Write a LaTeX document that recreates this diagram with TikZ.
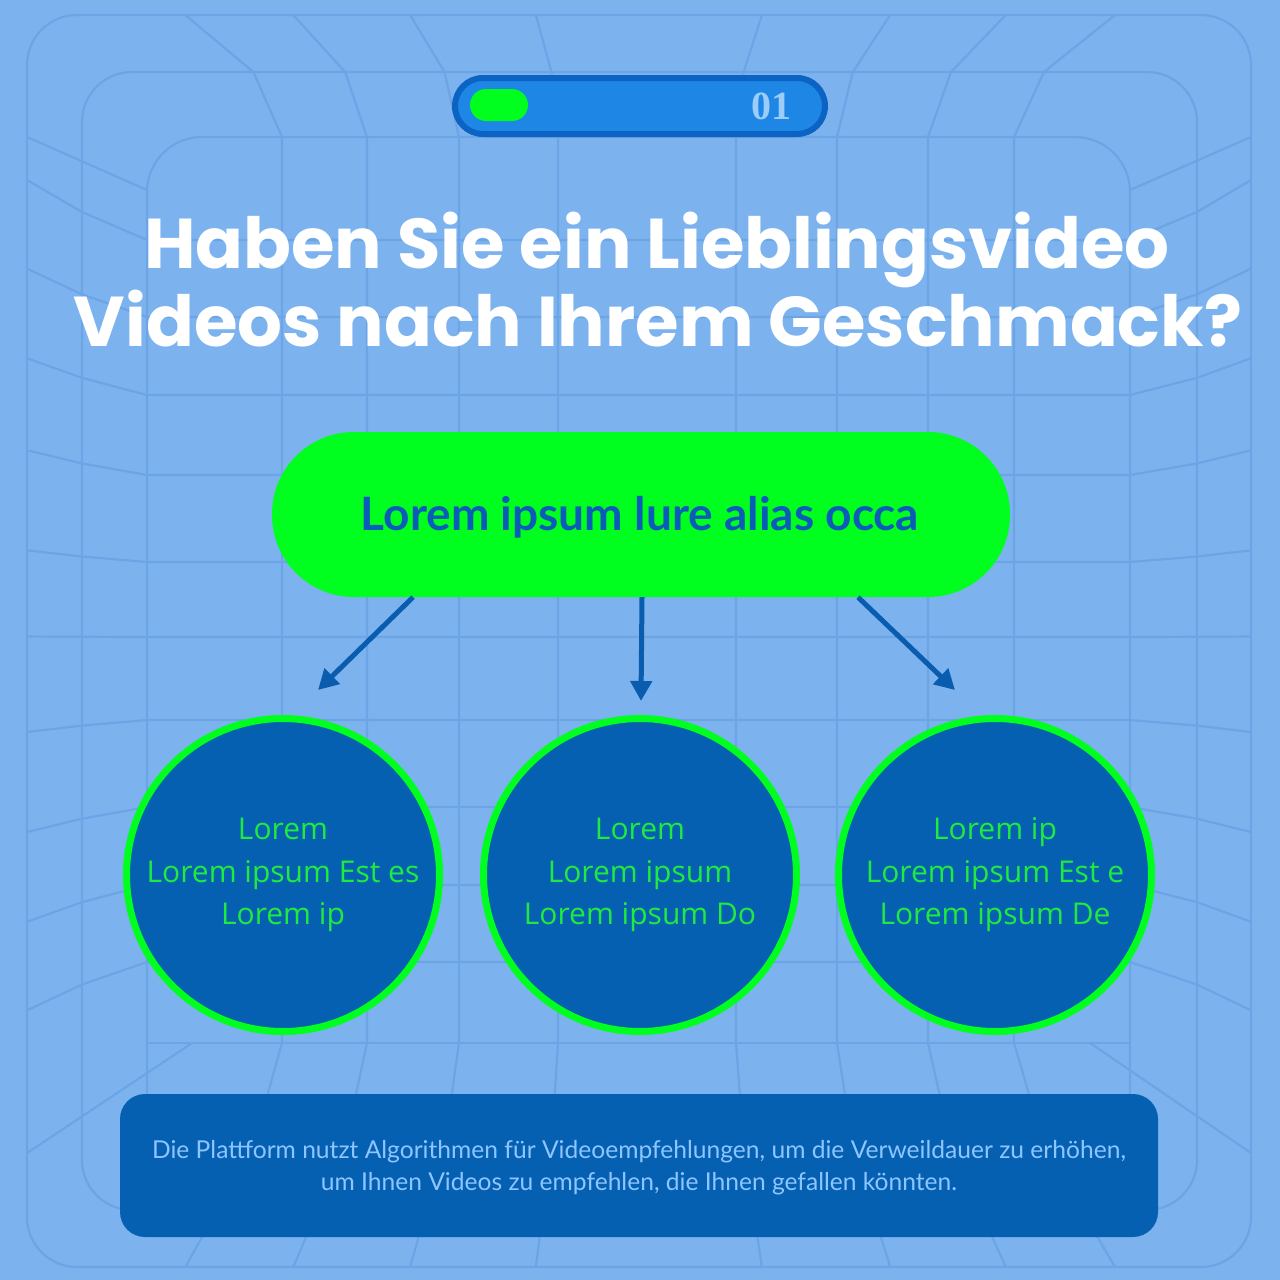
\documentclass[tikz,border=0pt]{standalone}
\usepackage{fontspec}
\usetikzlibrary{arrows.meta}
\setmainfont{Lato}
\newfontfamily\titlefont{Poppins}
\newfontfamily\headfont{Lato}
\newfontfamily\circfont{Open Sans}
\newfontfamily\bodyfont{Lato}
\newfontfamily\numfont{Liberation Serif}
\definecolor{bg}{HTML}{7CB3EF}
\definecolor{gridc}{HTML}{6CA4E6}
\definecolor{pilldark}{HTML}{0B63C4}
\definecolor{pillfill}{HTML}{1E87E6}
\definecolor{neon}{HTML}{00FF1E}
\definecolor{numc}{HTML}{9CCDF8}
\definecolor{deep}{HTML}{0660B1}
\definecolor{circtext}{HTML}{1EEA40}
\definecolor{arrowc}{HTML}{0A5DAE}
\definecolor{maintext}{HTML}{0A5CB8}
\definecolor{bodytext}{HTML}{8CC5FF}
\tikzset{
  gridline/.style={draw=gridc, line width=2.2pt},
  titletext/.style={text=white, font=\titlefont\bfseries\fontsize{70.5}{78}\selectfont, inner sep=0pt, anchor=base},
  bubble/.style={circle, minimum size=313pt, inner sep=0pt, draw=neon, line width=7pt, fill=deep,
    text=circtext, align=center, font=\circfont\fontsize{30}{42.5}\selectfont},
  arr/.style={draw=arrowc, line width=5pt, -{Triangle[width=21pt,length=20pt]}},
}
\begin{document}
\begin{tikzpicture}[x=1pt,y=-1pt]
\useasboundingbox (0,0) rectangle (1280,1280);
\fill[bg] (0,0) rectangle (1280,1280);
% ---- background perspective grid ----
\draw[gridline, rounded corners=50pt] (27,15) rectangle (1251,1267);
\draw[gridline, rounded corners=50pt] (82,72) rectangle (1197,1210);
\draw[gridline, rounded corners=55pt] (147,137) rectangle (1130,1145);
\foreach \v in {282,367,459,558,736,837,928,1014}{
  \draw[gridline] ({640+(\v-640)*1.27},15) -- ({640+(\v-640)*1.08},72) -- (\v,137) -- (\v,1043)
     -- ({640+(\v-640)*1.08},1145) -- ({640+(\v-640)*1.27},1267);
}
\foreach \h in {240,317,395,475,562,637,720,807,885,962}{
  \draw[gridline] (27,{640+(\h-640)*1.15}) -- (82,{640+(\h-640)*1.07}) -- (147,\h) -- (1130,\h)
     -- (1197,{640+(\h-640)*1.07}) -- (1251,{640+(\h-640)*1.15});
}
\draw[gridline] (147,1043) -- (1130,1043);
\draw[gridline] (27,137) -- (147,190);
\draw[gridline] (1251,137) -- (1130,190);
\draw[gridline] (27,1153) -- (192,1043);
\draw[gridline] (1251,1153) -- (1090,1043);
% ---- progress pill ----
\node[draw=pilldark, line width=6pt, fill=pillfill, rounded corners=28pt,
      minimum width=370pt, minimum height=56pt, inner sep=0pt] (bar) at (640,106) {};
\node[fill=neon, rounded corners=16pt, minimum width=58pt, minimum height=32pt, inner sep=0pt] (dot) at (499,105) {};
\node[text=numc, font=\numfont\bfseries\fontsize{40}{40}\selectfont, inner sep=0pt] (num) at (771,106) {01};
% ---- title ----
\node[titletext] (t1) at (657,268) {Haben Sie ein Lieblingsvideo};
\node[titletext] (t2) at (658,346) {Videos nach Ihrem Geschmack?};
% ---- main node ----
\node[fill=neon, rounded corners=82pt, minimum width=738pt, minimum height=165pt, inner sep=0pt] (main) at (641,514.5) {};
\node[text=maintext, font=\headfont\bfseries\fontsize{46}{46}\selectfont, inner sep=0pt] (maintxt) at (640,517) {Lorem ipsum lure alias occa};
% ---- circles ----
\node[bubble] (c1) at (283,875) {Lorem\\Lorem ipsum Est es\\Lorem ip};
\node[bubble] (c2) at (640,875) {Lorem\\Lorem ipsum\\Lorem ipsum Do};
\node[bubble] (c3) at (995,875) {Lorem ip\\Lorem ipsum Est e\\Lorem ipsum De};
% ---- arrows ----
\draw[arr] ([xshift=-228pt]main.south) -- ([xshift=35pt,yshift=25pt]c1.north);
\draw[arr] ([xshift=1pt]main.south) -- ([xshift=1pt,yshift=14pt]c2.north);
\draw[arr] ([xshift=217pt]main.south) -- ([xshift=-40pt,yshift=25pt]c3.north);
% ---- bottom box ----
\node[fill=deep, rounded corners=25pt, minimum width=1038pt, minimum height=143pt, inner sep=0pt] (note) at (639,1165.5) {};
\node[text=bodytext, align=center, font=\bodyfont\fontsize{24.6}{32}\selectfont, inner sep=0pt] (notetxt) at (639,1168)
  {Die Plattform nutzt Algorithmen für Videoempfehlungen, um die Verweildauer zu erhöhen,\\um Ihnen Videos zu empfehlen, die Ihnen gefallen könnten.};
\end{tikzpicture}
\end{document}
